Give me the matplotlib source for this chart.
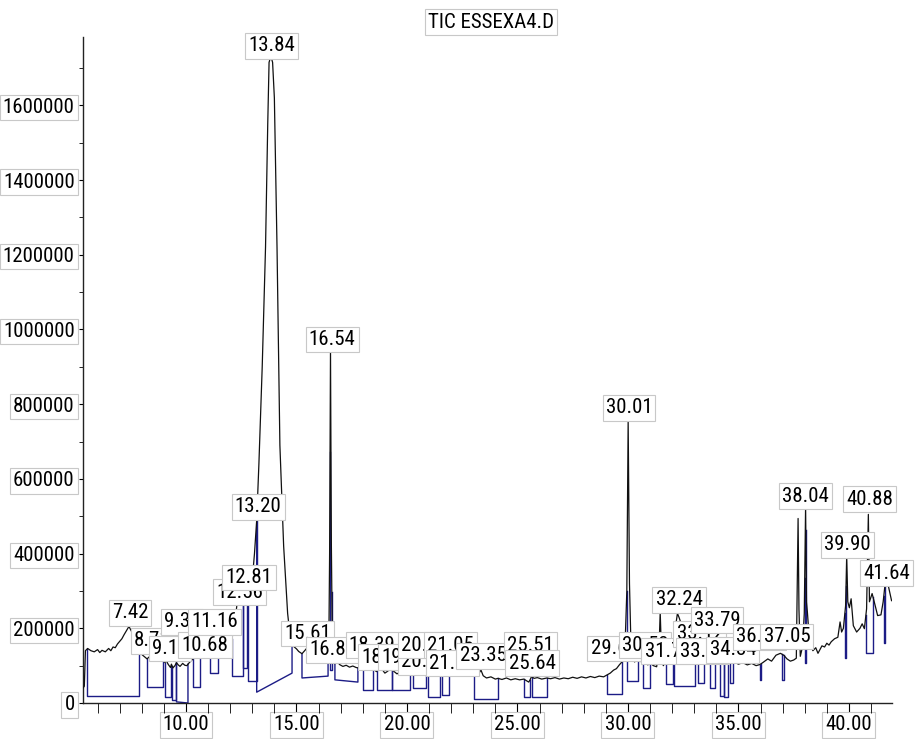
"""TIC trace for ESSEXA4.D with integration baselines and peak retention-time labels."""

import matplotlib

matplotlib.use("Agg")
import matplotlib.pyplot as plt
import numpy as np
from matplotlib.ticker import FixedLocator, MultipleLocator

plt.rcParams["font.family"] = ["Roboto Condensed", "PT Sans Narrow", "Archivo Narrow",
                               "Liberation Sans", "DejaVu Sans"]

# ---------------------------------------------------------------- trace data
# retention time (min)
TIME = [
    5.34, 5.40, 5.45, 5.55, 5.70, 5.85, 6.00, 6.10, 6.20, 6.35,
    6.50, 6.60, 6.70, 6.80, 6.90, 7.00, 7.10, 7.20, 7.30, 7.42,
    7.55, 7.70, 7.87, 8.00, 8.24, 8.45, 8.60, 8.71, 8.85, 8.96,
    9.05, 9.10, 9.20, 9.30, 9.34, 9.41, 9.50, 9.57, 9.65, 9.73,
    9.85, 9.95, 10.04, 10.12, 10.18, 10.32, 10.45, 10.55, 10.68, 10.80,
    10.95, 11.09, 11.16, 11.25, 11.35, 11.45, 11.60, 11.75, 11.90, 12.08,
    12.20, 12.30, 12.40, 12.48, 12.56, 12.64, 12.72, 12.81, 12.90, 13.00,
    13.10, 13.20, 13.30, 13.45, 13.60, 13.70, 13.76, 13.84, 13.92, 14.00,
    14.12, 14.25, 14.42, 14.60, 14.72, 14.84, 15.00, 15.10, 15.25, 15.40,
    15.55, 15.61, 15.75, 15.90, 16.05, 16.20, 16.35, 16.46, 16.50, 16.54,
    16.58, 16.63, 16.74, 16.84, 16.95, 17.10, 17.25, 17.40, 17.55, 17.70,
    17.85, 18.00, 18.15, 18.30, 18.39, 18.50, 18.62, 18.70, 18.78, 18.90,
    19.00, 19.10, 19.25, 19.40, 19.55, 19.70, 19.89, 20.00, 20.14, 20.27,
    20.40, 20.56, 20.70, 20.86, 20.95, 21.05, 21.20, 21.35, 21.53, 21.70,
    21.90, 22.10, 22.30, 22.50, 22.70, 22.90, 23.03, 23.20, 23.35, 23.45,
    23.60, 23.80, 24.00, 24.12, 24.30, 24.50, 24.70, 24.90, 25.10, 25.29,
    25.40, 25.51, 25.57, 25.64, 25.75, 25.90, 26.10, 26.33, 26.50, 26.70,
    26.90, 27.10, 27.30, 27.50, 27.70, 27.90, 28.10, 28.30, 28.50, 28.70,
    28.90, 29.05, 29.20, 29.35, 29.48, 29.61, 29.73, 29.85, 29.95, 30.01,
    30.07, 30.15, 30.30, 30.45, 30.53, 30.62, 30.75, 30.90, 31.00, 31.15,
    31.30, 31.41, 31.46, 31.51, 31.60, 31.74, 31.85, 31.95, 32.04, 32.12,
    32.18, 32.24, 32.32, 32.40, 32.50, 32.60, 32.75, 32.90, 33.03, 33.12,
    33.25, 33.40, 33.54, 33.65, 33.79, 33.90, 34.05, 34.20, 34.34, 34.45,
    34.60, 34.80, 35.00, 35.20, 35.40, 35.60, 35.80, 35.97, 36.10, 36.33,
    36.50, 36.70, 36.90, 37.05, 37.20, 37.35, 37.50, 37.62, 37.66, 37.70,
    37.74, 37.80, 37.90, 37.98, 38.04, 38.08, 38.12, 38.20, 38.30, 38.37,
    38.50, 38.60, 38.78, 38.90, 39.00, 39.10, 39.20, 39.35, 39.50, 39.60,
    39.67, 39.75, 39.85, 39.90, 39.95, 40.02, 40.10, 40.20, 40.35, 40.50,
    40.60, 40.70, 40.80, 40.88, 40.93, 41.05, 41.15, 41.30, 41.45, 41.55,
    41.64, 41.76, 41.93,
]
# total ion current (abundance, thousands)
TIC_K = [
    40, 45, 140, 146, 140, 137, 143, 135, 141, 137,
    146, 140, 150, 148, 158, 165, 172, 183, 193, 205,
    190, 165, 140, 130, 118, 130, 145, 152, 130, 118,
    108, 114, 103, 95, 104, 94, 100, 108, 102, 98,
    106, 101, 100, 106, 110, 118, 125, 128, 138, 125,
    130, 145, 185, 160, 150, 145, 155, 165, 175, 172,
    210, 260, 282, 262, 285, 275, 282, 293, 285, 330,
    400, 489, 640, 900, 1220, 1550, 1715, 1732, 1715, 1620,
    1220, 690, 420, 240, 175, 153, 145, 138, 132, 142,
    153, 158, 150, 142, 137, 130, 124, 122, 400, 945,
    420, 112, 105, 112, 103, 98, 101, 96, 99, 95,
    93, 96, 91, 97, 103, 90, 84, 92, 99, 88,
    80, 84, 91, 85, 78, 83, 95, 87, 80, 88,
    79, 86, 77, 80, 78, 87, 78, 74, 82, 76,
    73, 77, 74, 77, 73, 75, 72, 74, 88, 73,
    67, 70, 64, 66, 63, 67, 62, 65, 62, 64,
    60, 56, 62, 71, 66, 68, 64, 67, 65, 68,
    64, 67, 65, 69, 66, 70, 67, 71, 68, 72,
    70, 75, 80, 88, 92, 102, 110, 118, 300, 757,
    320, 122, 110, 116, 126, 108, 113, 102, 108, 100,
    97, 150, 244, 150, 100, 113, 104, 110, 120, 170,
    215, 240, 228, 214, 190, 165, 140, 125, 120, 132,
    118, 124, 137, 130, 152, 124, 114, 107, 121, 112,
    105, 110, 104, 108, 102, 106, 100, 103, 108, 118,
    112, 128, 133, 128, 118, 112, 115, 120, 300, 494,
    250, 125, 150, 240, 526, 270, 244, 180, 150, 140,
    148, 133, 153, 150, 160, 155, 164, 172, 176, 217,
    190, 200, 260, 395, 271, 255, 279, 207, 190, 200,
    212, 199, 252, 505, 271, 293, 270, 234, 236, 271,
    320, 320, 274,
]

# integration events: start / end time and baseline level (thousands) at each end
INT_START = [5.52, 8.24, 9.05, 9.37, 9.57, 10.32, 11.09, 12.08, 12.60, 12.80,
             13.20, 15.25, 16.52, 16.74, 18.00, 18.64, 19.32, 20.27, 20.95, 21.58,
             23.03, 25.29, 25.66, 29.05, 29.95, 30.68, 31.72, 32.08, 33.17, 33.71,
             34.16, 34.34, 34.62, 35.97, 36.97, 38.00, 39.82, 40.77, 41.58]
INT_END = [7.87, 8.96, 9.32, 9.57, 10.09, 10.63, 11.45, 12.58, 12.75, 13.20,
           14.80, 16.43, 16.60, 17.78, 18.46, 19.32, 20.14, 20.86, 21.49, 21.90,
           24.12, 25.57, 26.33, 29.73, 30.45, 31.00, 32.04, 33.03, 33.44, 33.94,
           34.34, 34.52, 34.75, 36.02, 37.06, 38.05, 39.87, 41.09, 41.63]
BASE_START_K = [19, 43, 16, 8, 3, 43, 80, 72, 94, 59,
                29, 67, 88, 62, 35, 35, 35, 40, 16, 21,
                11, 16, 16, 24, 59, 40, 51, 46, 54, 40,
                19, 16, 54, 62, 62, 107, 120, 134, 161]
BASE_END_K = [19, 43, 16, 8, 0, 43, 80, 72, 94, 59,
              80, 72, 88, 56, 35, 35, 35, 40, 16, 21,
              11, 16, 16, 24, 59, 40, 51, 46, 54, 40,
              19, 16, 54, 62, 62, 107, 120, 134, 161]

# peak labels (retention times as reported)
PEAK_TEXT = ["7.42", "8.71", "9.10", "9.34", "10.68", "11.16", "12.56", "12.81",
             "13.20", "13.84", "15.61", "16.54", "16.84", "18.39", "18.78", "19.89",
             "20.27", "20.56", "21.05", "21.53", "23.35", "25.51", "25.64", "29.61",
             "30.01", "30.53", "31.74", "32.24", "33.12", "33.54", "33.79", "34.34",
             "36.33", "37.05", "38.04", "39.90", "40.88", "41.64"]

# label box centres (min, thousands); boxes are nudged so they stack like the
# data system's annotation layout
LABEL_X = [7.47, 8.46, 9.28, 9.82, 10.86, 11.31, 12.44, 12.85,
           13.26, 13.89, 15.52, 16.61, 16.65, 18.42, 19.00, 19.91,
           20.81, 20.81, 21.95, 22.04, 23.44, 25.57, 25.66, 29.37,
           30.05, 30.77, 31.81, 32.31, 33.26, 33.39, 34.03, 34.75,
           35.97, 37.19, 38.05, 39.95, 40.95, 41.72]
LABEL_Y_K = [241, 166, 145, 217, 155, 217, 297, 335,
             525, 1759, 187, 974, 142, 155, 123, 123,
             110, 155, 155, 107, 126, 155, 107, 145,
             790, 155, 139, 276, 185, 139, 222, 142,
             177, 179, 554, 423, 546, 348]

TRACE_COLOR = "#111111"
BASE_COLOR = "#1c1c86"
BOX = dict(boxstyle="square,pad=0.15", fc="white", ec="#c8c8c8", lw=0.8)
FS = 15

time = np.array(TIME)
tic = np.array(TIC_K) * 1000.0

fig = plt.figure(figsize=(9.17, 7.39), dpi=100)
ax = fig.add_axes([83 / 917, 36 / 739, 809 / 917, 666 / 739])

# integration baselines: drop lines from the trace to the baseline and back up
for t0, t1, b0, b1 in zip(INT_START, INT_END, BASE_START_K, BASE_END_K):
    y0 = np.interp(t0, time, tic)
    y1 = np.interp(t1, time, tic)
    ax.plot([t0, t0, t1, t1], [y0, b0 * 1000, b1 * 1000, y1],
            color=BASE_COLOR, lw=1.0, zorder=2)

ax.plot(time, tic, color=TRACE_COLOR, lw=0.9, zorder=3)

for i, (txt, lx, ly) in enumerate(zip(PEAK_TEXT, LABEL_X, LABEL_Y_K)):
    ax.text(lx, ly * 1000, txt, ha="center", va="center", fontsize=FS,
            bbox=BOX, zorder=10 + i, clip_on=False)

ax.set_xlim(5.34, 41.95)
ax.set_ylim(0, 1783000)

for side in ("top", "right"):
    ax.spines[side].set_visible(False)
for side in ("left", "bottom"):
    ax.spines[side].set_linewidth(1.0)
    ax.spines[side].set_color("#222222")

yt = np.arange(0, 1600001, 200000)
ax.set_yticks(yt, labels=[f"{int(v)}" for v in yt], fontsize=FS)
ax.yaxis.set_minor_locator(MultipleLocator(100000))
ax.tick_params(axis="y", which="both", direction="out", length=3, pad=3)

xt = [10, 15, 20, 25, 30, 35, 40]
ax.xaxis.set_major_locator(FixedLocator(xt))
ax.set_xticklabels([f"{v:.2f}" for v in xt], fontsize=FS)
ax.xaxis.set_minor_locator(MultipleLocator(1))
ax.tick_params(axis="x", which="both", direction="out", length=7, pad=2)

for lbl in ax.get_yticklabels() + ax.get_xticklabels():
    lbl.set_bbox(BOX)

fig.text(491 / 917, 1 - 22 / 739, "TIC ESSEXA4.D", ha="center", va="center",
         fontsize=FS, bbox=dict(boxstyle="square,pad=0.15", fc="white",
                                ec="#c8c8c8", lw=0.8))

fig.savefig("out.png", dpi=100)
